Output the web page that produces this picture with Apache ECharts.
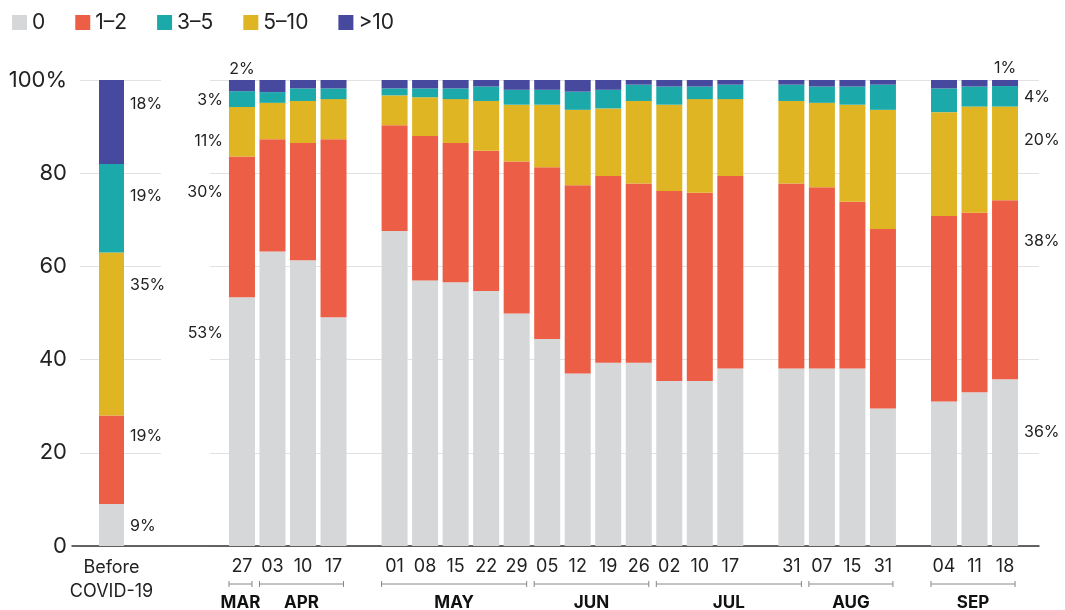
<!DOCTYPE html>
<html>
<head>
<meta charset="utf-8">
<script src="https://cdn.jsdelivr.net/npm/echarts@6/dist/echarts.min.js"></script>
<style>
    body { margin: 0; background: #fff; }
    #chart { width: 1065px; height: 610px; }
</style>
</head>
<body>
<div id="chart"></div>
<script>
// ------------------ data ------------------
const beforeLabel = 'Before\nCOVID-19';
const dates = ['27', '03', '10', '17', '', '01', '08', '15', '22', '29', '05', '12', '19', '26',
    '02', '10', '17', '', '31', '07', '15', '31', '', '04', '11', '18'];

// stack order bottom -> top
const stackNames = ['0', '1–2', '5–10', '3–5', '>10'];
const legendNames = ['0', '1–2', '3–5', '5–10', '>10'];

const beforeVals = [9, 19, 35, 19, 18];

const zeroVals = [53.4, 63.2, 61.3, 49.1, '-', 67.6, 57.0, 56.6, 54.7, 49.9, 44.4, 37.0, 39.3, 39.3,
    35.4, 35.4, 38.1, '-', 38.1, 38.1, 38.1, 29.5, '-', 31.0, 33.0, 35.8];
const oneTwoVals = [30.2, 24.1, 25.2, 38.2, '-', 22.7, 31.0, 29.9, 30.1, 32.6, 36.9, 40.4, 40.1, 38.5,
    40.8, 40.4, 41.3, '-', 39.7, 38.9, 35.8, 38.5, '-', 39.8, 38.5, 38.4];
const fiveTenVals = [10.6, 7.8, 9.0, 8.6, '-', 6.4, 8.3, 9.4, 10.7, 12.2, 13.4, 16.2, 14.5, 17.7,
    18.5, 20.1, 16.5, '-', 17.7, 18.1, 20.8, 25.6, '-', 22.3, 22.8, 20.1];
const threeFiveVals = [3.4, 2.3, 2.7, 2.3, '-', 1.5, 1.9, 2.3, 3.1, 3.2, 3.2, 3.9, 4.0, 3.5,
    3.9, 2.7, 3.1, '-', 3.5, 3.5, 3.9, 5.4, '-', 5.1, 4.3, 4.4];
const overTenVals = [2.4, 2.6, 1.8, 1.8, '-', 1.8, 1.8, 1.8, 1.4, 2.1, 2.1, 2.5, 2.1, 1.0,
    1.4, 1.4, 1.0, '-', 1.0, 1.4, 1.4, 1.0, '-', 1.8, 1.4, 1.3];
const dateVals = [zeroVals, oneTwoVals, fiveTenVals, threeFiveVals, overTenVals];

const months = ['MAR', 'APR', 'MAY', 'JUN', 'JUL', 'AUG', 'SEP'];
const monthStart = [0, 1, 5, 10, 14, 19, 23];
const monthEnd = [0, 3, 9, 13, 18, 21, 25];

// ------------------ style ------------------
const FONT = 'Inter, "Noto Sans", sans-serif';
const TXT = '#222';
const colors = {'0': '#d6d7d9', '1–2': '#ed5e46', '3–5': '#1ba9a9', '5–10': '#e0b523', '>10': '#46499e'};

// label offsets (px below the top of each segment)
const beforeNoteDy = [22, 21, 33, 32, 24];
const marNoteDy = [36, 36, 34, 9, -11];
const sepNoteDy = [53, 41, 34, 11, -12];

function note(v, side, dy, above) {
    let pos, align;
    if (above) {
        pos = ['50%', dy]; align = 'center';
    } else if (side === 'right') {
        pos = ['100%', dy]; align = 'left';
    } else {
        pos = [-6, dy]; align = 'right';
    }
    return {
        value: v,
        label: {
            show: true, position: pos, align: align, verticalAlign: 'middle',
            distance: 0, offset: side === 'right' && !above ? [6, 0] : [0, 0],
            formatter: Math.round(v) + '%', fontSize: 16, color: TXT, fontFamily: FONT
        }
    };
}

let series = [];
stackNames.forEach(function (name, k) {
    let top = k === stackNames.length - 1;
    series.push({
        name: name, type: 'bar', stack: 'b', xAxisIndex: 2, yAxisIndex: 2,
        barWidth: 25, itemStyle: {color: colors[name]},
        data: [note(beforeVals[k], 'right', beforeNoteDy[k], false)]
    });
    let d = dateVals[k].map(function (v, i) {
        if (i === 0) return note(v, 'left', marNoteDy[k], top);
        if (i === dates.length - 1) return note(v, 'right', sepNoteDy[k], top);
        return v;
    });
    series.push({
        name: name, type: 'bar', stack: 'd', xAxisIndex: 3, yAxisIndex: 3,
        barWidth: 26, itemStyle: {color: colors[name]}, data: d
    });
});

// month brackets under the date axis
series.push({
    type: 'custom', xAxisIndex: 3, yAxisIndex: 3, silent: true,
    data: months.map(function (m, i) { return [monthStart[i], monthEnd[i]]; }),
    renderItem: function (params, api) {
        let s = api.coord([api.value(0), 0]);
        let e = api.coord([api.value(1), 0]);
        let x0 = s[0] - 13, x1 = e[0] + 10, y = s[1] + 38;
        let ls = {stroke: '#888', lineWidth: 1};
        return {
            type: 'group', children: [
                {type: 'line', shape: {x1: x0, y1: y, x2: x1, y2: y}, style: ls},
                {type: 'line', shape: {x1: x0, y1: y - 3, x2: x0, y2: y + 3}, style: ls},
                {type: 'line', shape: {x1: x1, y1: y - 3, x2: x1, y2: y + 3}, style: ls},
                {
                    type: 'text', x: (x0 + x1) / 2, y: y + 19,
                    style: {
                        text: months[params.dataIndex], fill: '#111', font: 'bold 17px ' + FONT,
                        align: 'center', verticalAlign: 'middle'
                    }
                }
            ]
        };
    }
});

const TOP = 80, H = 466;
const yBase = {type: 'value', min: 0, max: 100, interval: 20};

let option = {
    animation: false,
    textStyle: {fontFamily: FONT},
    legend: {
        left: 12, top: 12, padding: 0, itemWidth: 15, itemHeight: 15, itemGap: 30, icon: 'rect',
        data: legendNames,
        textStyle: {fontSize: 21, color: TXT, fontFamily: FONT}
    },
    grid: [
        {left: 80, width: 81, top: TOP, height: H},     // grid lines left
        {left: 210, width: 829, top: TOP, height: H},   // grid lines right
        {left: 99, width: 25, top: TOP, height: H},     // before bar
        {left: 226.7, width: 793.6, top: TOP, height: H}, // dated bars
        {left: 72, width: 967, top: TOP, height: H}     // base line
    ],
    xAxis: [
        {gridIndex: 0, type: 'value', show: false},
        {gridIndex: 1, type: 'value', show: false},
        {
            gridIndex: 2, type: 'category', data: [beforeLabel],
            axisLine: {show: false}, axisTick: {show: false},
            axisLabel: {fontSize: 18, lineHeight: 24, color: TXT, margin: 10, fontFamily: FONT}
        },
        {
            gridIndex: 3, type: 'category', data: dates,
            axisLine: {show: false}, axisTick: {show: false},
            axisLabel: {fontSize: 18, color: TXT, margin: 12, interval: 0, fontFamily: FONT}
        },
        {
            gridIndex: 4, type: 'value', min: 0, max: 1,
            axisLine: {show: true, lineStyle: {color: '#333', width: 1.5}},
            axisTick: {show: false}, axisLabel: {show: false}, splitLine: {show: false}
        }
    ],
    yAxis: [
        Object.assign({
            gridIndex: 0,
            axisLine: {show: false}, axisTick: {show: false},
            splitLine: {lineStyle: {color: '#e2e2e2'}},
            axisLabel: {
                fontSize: 22, color: TXT, margin: 13, fontFamily: FONT,
                formatter: function (v) { return v === 100 ? '100%' : v; }
            }
        }, yBase),
        Object.assign({
            gridIndex: 1,
            axisLine: {show: false}, axisTick: {show: false}, axisLabel: {show: false},
            splitLine: {lineStyle: {color: '#e2e2e2'}}
        }, yBase),
        Object.assign({gridIndex: 2, show: false}, yBase),
        Object.assign({gridIndex: 3, show: false}, yBase),
        Object.assign({gridIndex: 4, show: false}, yBase)
    ],
    series: series
};

let myChart = echarts.init(document.getElementById('chart'));
myChart.setOption(option);
</script>
</body>
</html>
